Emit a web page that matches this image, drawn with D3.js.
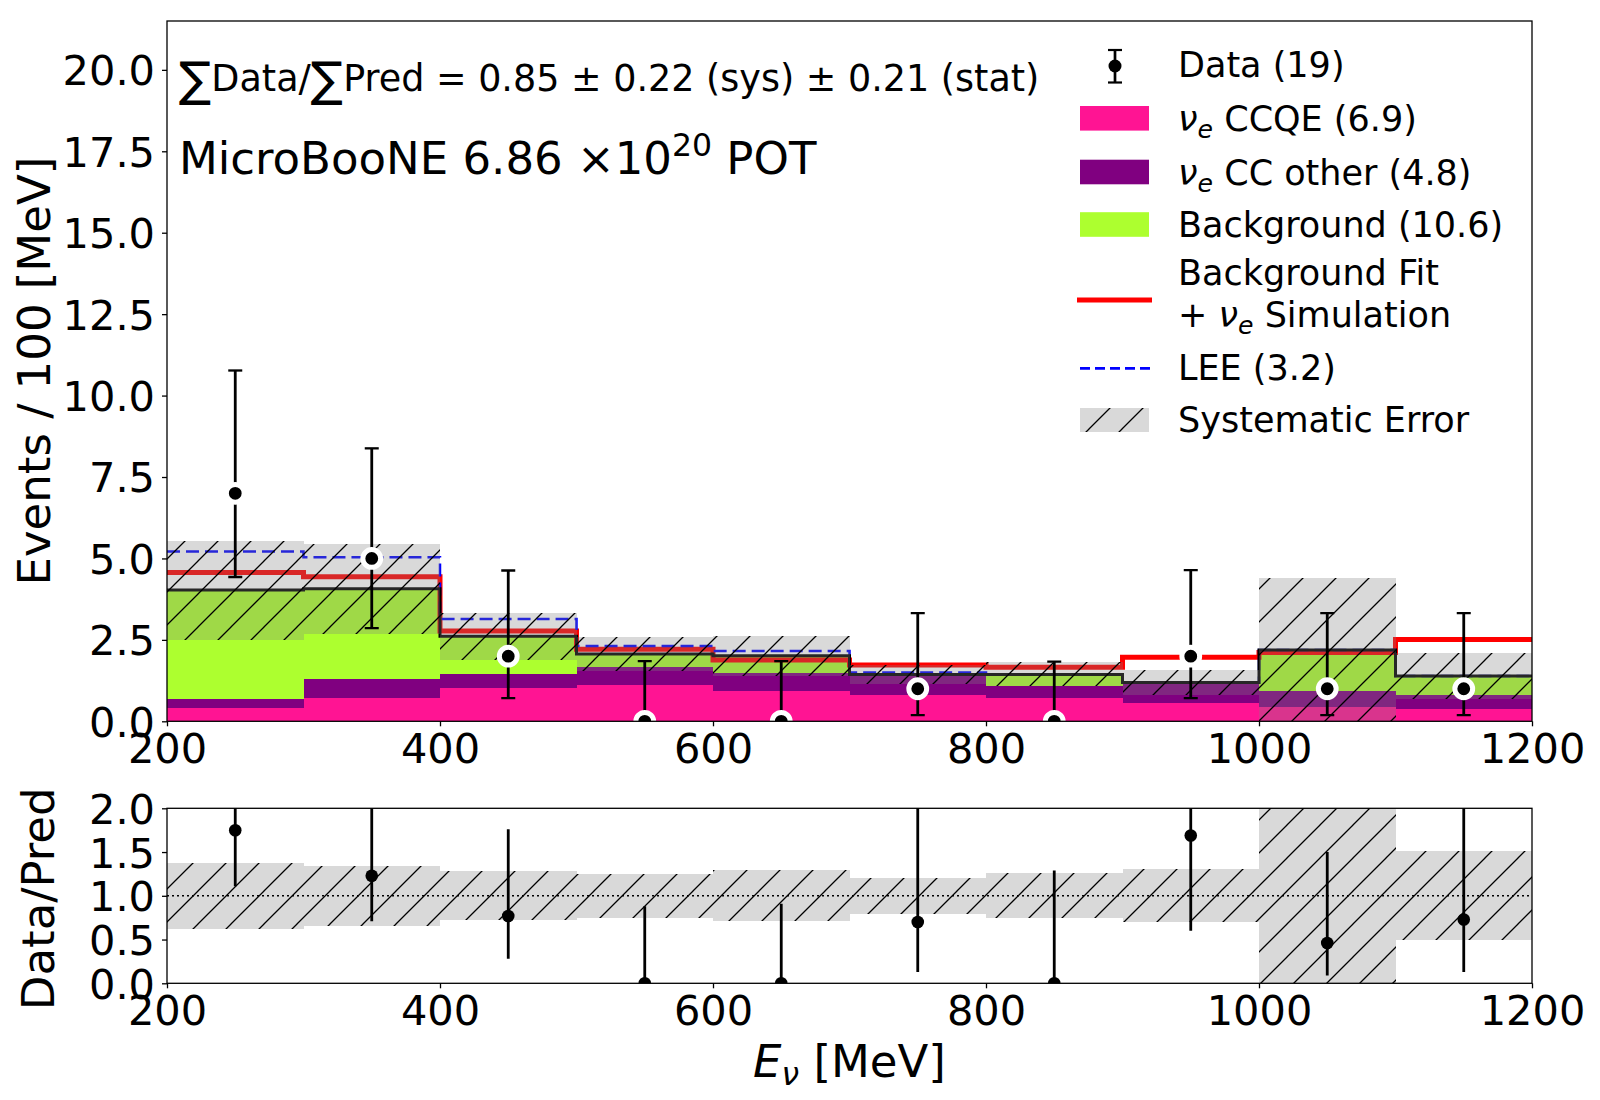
<!DOCTYPE html>
<html><head><meta charset="utf-8">
<script src="https://cdn.jsdelivr.net/npm/d3@7"></script>
<style>body{margin:0;background:#fff} text{font-family:"DejaVu Sans";fill:#000}</style>
</head><body>
<svg id="c" width="1600" height="1100"></svg>
<script>
// ---------------- data ----------------
const binEdges = [200,300,400,500,600,700,800,900,1000,1100,1200];
const binCenters = [250,350,450,550,650,750,850,950,1050,1150];
const ccqe       = [0.41,0.72,1.02,1.12,0.94,0.81,0.73,0.55,0.43,0.38];
const ccOther    = [0.28,0.58,0.43,0.54,0.53,0.59,0.36,0.60,0.50,0.43];
const background = [3.34,2.77,1.16,0.41,0.54,0.04,0.35,0.04,1.26,0.58];
const sysErr     = [1.52,1.38,0.72,0.53,0.61,0.29,0.37,0.37,2.22,0.71];
const bkgFitPlusNue = [4.57,4.44,2.77,2.21,1.88,1.73,1.66,1.97,2.11,2.51];
const leePred    = [5.21,5.04,3.14,2.31,2.16,1.50,1.44,1.19,2.19,1.39];
const dataCounts = [7,5,2,0,0,1,0,2,1,1];
const dataLow    = [4.43,2.86,0.71,0,0,0.19,0,0.71,0.19,0.19];
const dataHigh   = [10.77,8.38,4.63,1.85,1.85,3.32,1.83,4.64,3.32,3.32];
const ratioVals  = [1.75,1.23,0.77,0,0,0.70,0,1.69,0.46,0.73];
const ratioLow   = [1.11,0.71,0.28,0,0,0.13,0,0.60,0.09,0.13];
const ratioHigh  = [2.67,2.06,1.76,0.88,0.91,2.31,1.29,3.90,1.50,2.39];
const ratioSysErr= [0.377,0.34,0.28,0.25,0.29,0.205,0.255,0.305,1.01,0.51];
const xTicks = [200,400,600,800,1000,1200];
const yTicksMain = [0,2.5,5,7.5,10,12.5,15,17.5,20];
const yTicksRatio = [0,0.5,1,1.5,2];

// ---------------- layout ----------------
const svg = d3.select('#c');
const mL=167, mR=1532, mT=21, mB=721.3, rT=808.3, rB=983.3;
const x = d3.scaleLinear().domain([200,1200]).range([mL,mR]);
const y = d3.scaleLinear().domain([0,21.5]).range([mB,mT]);
const yr = d3.scaleLinear().domain([0,2]).range([rB,rT]);
const FS = 41.5, LABFS = 45;

const defs = svg.append('defs');
defs.append('clipPath').attr('id','clipM').append('rect').attr('x',mL).attr('y',mT).attr('width',mR-mL).attr('height',mB-mT);
defs.append('clipPath').attr('id','clipR').append('rect').attr('x',mL).attr('y',rT).attr('width',mR-mL).attr('height',rB-rT);
const pat = defs.append('pattern').attr('id','hatch').attr('patternUnits','userSpaceOnUse').attr('width',33).attr('height',33);
pat.append('path').attr('d','M-4,37 L37,-4 M-10,10 L10,-10 M23,43 L43,23').attr('stroke','#000').attr('stroke-width',1.3).attr('fill','none');

const bw = i => x(binEdges[i+1]) - x(binEdges[i]);
const totals = binCenters.map((_,i)=>ccqe[i]+ccOther[i]+background[i]);

// ---------------- main panel ----------------
const gM = svg.append('g').attr('clip-path','url(#clipM)');
const stackArrs = [ccqe, ccOther, background];
const stackCols = ['#ff1493','#800080','#adff2f'];
let base = binCenters.map(()=>0);
stackArrs.forEach((arr,k)=>{
  gM.selectAll(null).data(arr).enter().append('rect')
    .attr('x',(d,i)=>x(binEdges[i])).attr('width',(d,i)=>bw(i))
    .attr('y',(d,i)=>y(base[i]+d)).attr('height',(d,i)=>y(base[i])-y(base[i]+d))
    .attr('fill',stackCols[k]).attr('shape-rendering','crispEdges');
  base = base.map((b,i)=>b+arr[i]);
});
function stepPath(vals, sc){
  let p='';
  vals.forEach((v,i)=>{ p += (i===0?'M':'L')+x(binEdges[i])+','+sc(v)+'L'+x(binEdges[i+1])+','+sc(v); });
  return p;
}
gM.append('path').attr('d',stepPath(bkgFitPlusNue,y)).attr('fill','none').attr('stroke','#ff0000').attr('stroke-width',5);
gM.append('path').attr('d',stepPath(leePred,y)).attr('fill','none').attr('stroke','#0000ff').attr('stroke-width',2.5).attr('stroke-dasharray','13,6');
gM.append('path').attr('d',stepPath(totals,y)).attr('fill','none').attr('stroke','#000').attr('stroke-width',3);
// systematic band
['#808080','url(#hatch)'].forEach((f,j)=>{
  gM.selectAll(null).data(totals).enter().append('rect')
    .attr('x',(d,i)=>x(binEdges[i])).attr('width',(d,i)=>bw(i))
    .attr('y',(d,i)=>y(d+sysErr[i])).attr('height',(d,i)=>y(d-sysErr[i])-y(d+sysErr[i]))
    .attr('fill',f).attr('fill-opacity',j===0?0.3:1).attr('shape-rendering','crispEdges');
});
// data
const gD = gM.append('g');
binCenters.forEach((c,i)=>{
  const cx=x(c);
  gD.append('line').attr('x1',cx).attr('x2',cx).attr('y1',y(dataLow[i])).attr('y2',y(dataHigh[i])).attr('stroke','#000').attr('stroke-width',2.8);
  [dataLow[i],dataHigh[i]].forEach(v=>gD.append('line').attr('x1',cx-7).attr('x2',cx+7).attr('y1',y(v)).attr('y2',y(v)).attr('stroke','#000').attr('stroke-width',2.3));
});
gD.selectAll(null).data(dataCounts).enter().append('circle')
  .attr('cx',(d,i)=>x(binCenters[i])).attr('cy',d=>y(d)).attr('r',8.9)
  .attr('fill','#000').attr('stroke','#fff').attr('stroke-width',5);

// ---------------- ratio panel ----------------
const gR = svg.append('g').attr('clip-path','url(#clipR)');
['#808080','url(#hatch)'].forEach((f,j)=>{
  gR.selectAll(null).data(ratioSysErr).enter().append('rect')
    .attr('x',(d,i)=>x(binEdges[i])).attr('width',(d,i)=>bw(i))
    .attr('y',d=>yr(1+d)).attr('height',d=>yr(1-d)-yr(1+d))
    .attr('fill',f).attr('fill-opacity',j===0?0.3:1).attr('shape-rendering','crispEdges');
});
gR.append('line').attr('x1',mL).attr('x2',mR).attr('y1',yr(1)).attr('y2',yr(1)).attr('stroke','#000').attr('stroke-width',1.6).attr('stroke-dasharray','2,3');
binCenters.forEach((c,i)=>{
  const cx=x(c);
  gR.append('line').attr('x1',cx).attr('x2',cx).attr('y1',yr(ratioLow[i])).attr('y2',yr(ratioHigh[i])).attr('stroke','#000').attr('stroke-width',2.8);
});
gR.selectAll(null).data(ratioVals).enter().append('circle')
  .attr('cx',(d,i)=>x(binCenters[i])).attr('cy',d=>yr(d)).attr('r',6.3).attr('fill','#000');

// ---------------- axes ----------------
function styleAxis(g){
  g.select('.domain').remove();
  g.selectAll('.tick line').attr('stroke','#000').attr('stroke-width',1.3);
  g.selectAll('.tick text').attr('font-size',FS).attr('font-family','DejaVu Sans').attr('fill','#000');
}
function yAxis(sc, ticks){
  const g = svg.append('g').attr('transform',`translate(${mL},0)`)
    .call(d3.axisLeft(sc).tickValues(ticks).tickSize(5).tickPadding(7).tickFormat(d3.format('.1f')));
  styleAxis(g); g.selectAll('.tick text').attr('dy','0.36em');
}
function xAxis(yy){
  const g = svg.append('g').attr('transform',`translate(0,${yy})`)
    .call(d3.axisBottom(x).tickValues(xTicks).tickSize(5).tickPadding(7).tickFormat(d3.format('d')));
  styleAxis(g);
}
yAxis(y, yTicksMain); xAxis(mB);
yAxis(yr, yTicksRatio); xAxis(rB);
[[mT,mB],[rT,rB]].forEach(([t,b])=>svg.append('rect').attr('x',mL).attr('y',t).attr('width',mR-mL).attr('height',b-t).attr('fill','none').attr('stroke','#000').attr('stroke-width',1.3));

// axis labels
svg.append('text').attr('transform',`translate(50,${(mT+mB)/2}) rotate(-90)`).attr('text-anchor','middle').attr('font-size',LABFS).text('Events / 100 [MeV]');
svg.append('text').attr('transform',`translate(54,${(rT+rB)/2 + 3}) rotate(-90)`).attr('text-anchor','middle').attr('font-size',LABFS).text('Data/Pred');
const xl = svg.append('text').attr('x',(mL+mR)/2).attr('y',1077).attr('text-anchor','middle').attr('font-size',LABFS);
xl.append('tspan').attr('font-style','italic').text('E');
xl.append('tspan').attr('font-style','italic').attr('font-size',LABFS*0.7).attr('dy',8).text('ν');
xl.append('tspan').attr('dy',-8).text(' [MeV]');

// annotations
const a1 = svg.append('text').attr('x',179).attr('y',91).attr('font-size',36.5);
a1.append('tspan').attr('font-size',48).attr('dy',5).text('∑');
a1.append('tspan').attr('dy',-5).text('Data/');
a1.append('tspan').attr('font-size',48).attr('dy',5).text('∑');
a1.append('tspan').attr('dy',-5).text('Pred = 0.85 ± 0.22 (sys) ± 0.21 (stat)');
const a2 = svg.append('text').attr('x',179).attr('y',174).attr('font-size',45);
a2.append('tspan').text('MicroBooNE 6.86 ×10');
a2.append('tspan').attr('font-size',31.5).attr('dy',-18).text('20');
a2.append('tspan').attr('dy',18).text(' POT');

// ---------------- legend ----------------
const LFS = 35, LX = 1178, HX0 = 1080, HX1 = 1149;
const gL = svg.append('g');
function nuLabel(yb, rest){
  const t = gL.append('text').attr('x',LX).attr('y',yb).attr('font-size',LFS);
  t.append('tspan').attr('font-style','italic').text('ν');
  t.append('tspan').attr('font-style','italic').attr('font-size',LFS*0.72).attr('dy',7).text('e');
  t.append('tspan').attr('dy',-7).text(rest);
  return t;
}
// Data
gL.append('line').attr('x1',1115).attr('x2',1115).attr('y1',50).attr('y2',82.5).attr('stroke','#000').attr('stroke-width',2.7);
[50,82.5].forEach(v=>gL.append('line').attr('x1',1108).attr('x2',1122).attr('y1',v).attr('y2',v).attr('stroke','#000').attr('stroke-width',2.2));
gL.append('circle').attr('cx',1115).attr('cy',66).attr('r',6.5).attr('fill','#000');
gL.append('text').attr('x',LX).attr('y',77).attr('font-size',LFS).text('Data (19)');
// patches
const patchRows = [
  {yc:118.3, col:'#ff1493'},
  {yc:172,   col:'#800080'},
  {yc:224.5, col:'#adff2f'}
];
patchRows.forEach(r=>gL.append('rect').attr('x',HX0).attr('y',r.yc-12.3).attr('width',HX1-HX0).attr('height',24.6).attr('fill',r.col));
nuLabel(130.8,' CCQE (6.9)');
nuLabel(184.5,' CC other (4.8)');
gL.append('text').attr('x',LX).attr('y',237).attr('font-size',LFS).text('Background (10.6)');
// Background fit
gL.append('line').attr('x1',1077).attr('x2',1152).attr('y1',300).attr('y2',300).attr('stroke','#ff0000').attr('stroke-width',5);
gL.append('text').attr('x',LX).attr('y',285).attr('font-size',LFS).text('Background Fit');
const t2 = gL.append('text').attr('x',LX).attr('y',326.7).attr('font-size',LFS);
t2.append('tspan').text('+ ');
t2.append('tspan').attr('font-style','italic').text('ν');
t2.append('tspan').attr('font-style','italic').attr('font-size',LFS*0.72).attr('dy',7).text('e');
t2.append('tspan').attr('dy',-7).text(' Simulation');
// LEE
gL.append('line').attr('x1',1080).attr('x2',1150).attr('y1',368.3).attr('y2',368.3).attr('stroke','#0000ff').attr('stroke-width',2.8).attr('stroke-dasharray','10,5');
gL.append('text').attr('x',LX).attr('y',380).attr('font-size',LFS).text('LEE (3.2)');
// Systematic
gL.append('rect').attr('x',HX0).attr('y',408).attr('width',HX1-HX0).attr('height',24).attr('fill','#808080').attr('fill-opacity',0.3);
gL.append('rect').attr('x',HX0).attr('y',408).attr('width',HX1-HX0).attr('height',24).attr('fill','url(#hatch)');
gL.append('text').attr('x',LX).attr('y',432).attr('font-size',LFS).text('Systematic Error');
</script>
</body></html>
